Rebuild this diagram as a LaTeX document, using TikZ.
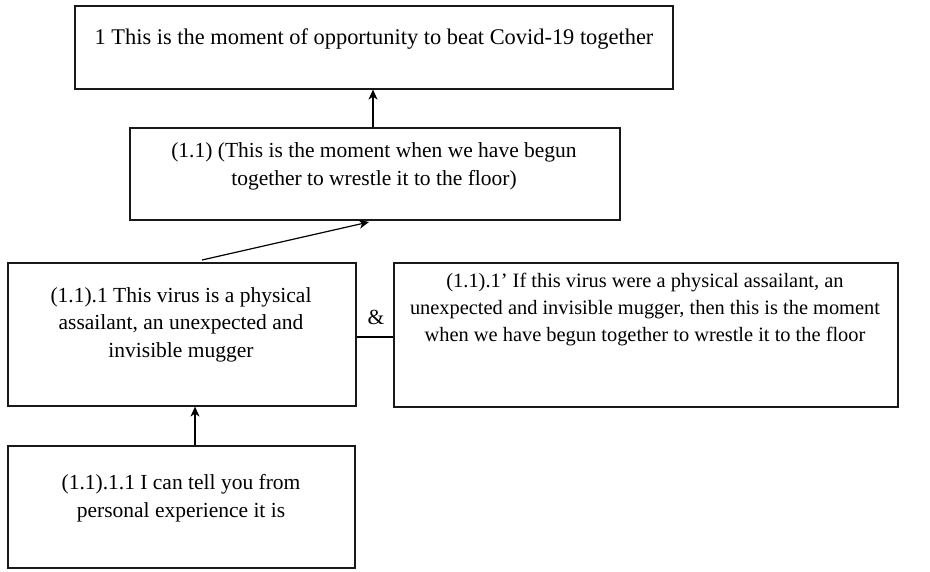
\documentclass[tikz,border=0pt]{standalone}
\usepackage{fontspec}
\setmainfont{Liberation Serif}
\usetikzlibrary{arrows.meta,calc}
\tikzset{
  box/.style={draw=black!90, line width=1.2pt, rectangle, inner sep=0pt, fill=none},
  txt/.style={align=center, inner sep=0pt, font=\fontsize{21.5}{27.5}\selectfont},
  arr/.style={line width=1.2pt, -{Stealth[length=10pt,width=9pt,inset=3pt]}},
  lnk/.style={line width=1.2pt}
}
\begin{document}
\begin{tikzpicture}[x=1pt,y=-1pt]
\useasboundingbox (0,0) rectangle (930,571);
% boxes
\node[box, minimum width=598pt, minimum height=83pt]  (b1) at (374,47.5) {};
\node[box, minimum width=490pt, minimum height=92pt]  (b2) at (375,174) {};
\node[box, minimum width=348pt, minimum height=143pt] (b3) at (182,334.5) {};
\node[box, minimum width=504pt, minimum height=144pt] (b4) at (646,335) {};
\node[box, minimum width=347pt, minimum height=122pt] (b5) at (181.5,507) {};
% texts (base anchor = baseline of the last line)
\node[txt, anchor=base, font=\fontsize{22.4}{28}\selectfont] (t1) at (374,44) {1 This is the moment of opportunity to beat Covid-19 together};
\node[txt, anchor=base] (t2) at (374,185) {(1.1) (This is the moment when we have begun\\together to wrestle it to the floor)};
\node[txt, anchor=base] (t3) at (181,357) {(1.1).1 This virus is a physical\\assailant, an unexpected and\\invisible mugger};
\node[txt, anchor=base, font=\fontsize{20.4}{27}\selectfont] (t4) at (645,341) {(1.1).1’ If this virus were a physical assailant, an\\unexpected and invisible mugger, then this is the moment\\when we have begun together to wrestle it to the floor};
\node[txt, anchor=base] (t5) at (181,517) {(1.1).1.1 I can tell you from\\personal experience it is};
\node[txt, anchor=base] (amp) at (376,324) {\&};
% connectors
\draw[arr] (b2.north -| 373,0) -- (b1.south -| 373,0);
\coordinate (s1) at (202,260);
\coordinate (e1) at (369,222);
\draw[arr] (s1) -- (e1);
\draw[arr] (b5.north -| 195,0) -- (b3.south -| 195,0);
\coordinate (mid) at (375,337);
\draw[lnk] (b3.east |- mid) -- (b4.west |- mid);
\end{tikzpicture}
\end{document}
